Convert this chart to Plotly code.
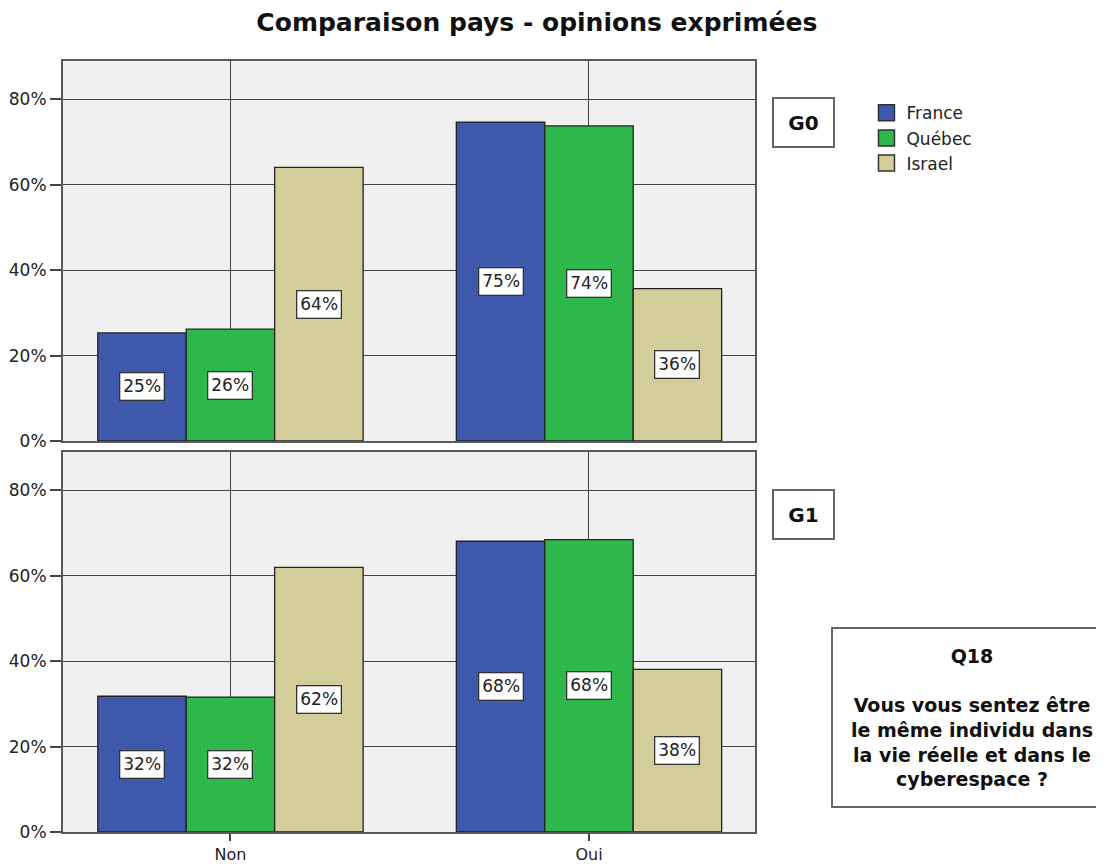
import plotly.graph_objects as go
from plotly.subplots import make_subplots

categories = ["Non", "Oui"]
countries = ["France", "Québec", "Israel"]
colors = ["#3E58AC", "#2EB84C", "#D3CE99"]

# valeurs en %
g0_france = [25.3, 74.7]
g0_quebec = [26.2, 73.8]
g0_israel = [64.1, 35.7]
g1_france = [31.8, 68.1]
g1_quebec = [31.6, 68.5]
g1_israel = [62.0, 38.1]

groups = {
    "G0": [g0_france, g0_quebec, g0_israel],
    "G1": [g1_france, g1_quebec, g1_israel],
}

FONT = "DejaVu Sans, Verdana, sans-serif"

fig = make_subplots(rows=2, cols=1, shared_xaxes=False, vertical_spacing=0.0143)

bargap = 0.26
bar_w = (1 - bargap) / 3

annotations = []
for row, (gname, series) in enumerate(groups.items(), start=1):
    for j, (name, vals) in enumerate(zip(countries, series)):
        fig.add_trace(go.Bar(
            x=categories, y=vals, name=name,
            marker=dict(color=colors[j], line=dict(color="#222222", width=1.3)),
            showlegend=False,
        ), row=row, col=1)
        for i, v in enumerate(vals):
            annotations.append(dict(
                x=i + (j - 1) * bar_w, y=v / 2,
                xref="x" if row == 1 else "x2", yref="y" if row == 1 else "y2",
                text=f"{round(v):.0f}%", showarrow=False,
                font=dict(family=FONT, size=17, color="#222222"),
                bgcolor="white", bordercolor="#333333", borderwidth=1.3, borderpad=3,
            ))

# legende (carrés plus grands que le symbole de barre par défaut)
for j, name in enumerate(countries):
    fig.add_trace(go.Scatter(
        x=[None], y=[None], mode="markers", name=name, legendgroup=name,
        marker=dict(symbol="square", size=16, color=colors[j],
                    line=dict(color="#333333", width=1.5)),
    ), row=1, col=1)

fig.update_layout(annotations=annotations)

axis_common = dict(showline=True, linecolor="#5a5a5a", linewidth=2, mirror=True,
                   showgrid=True, gridcolor="#444444", gridwidth=1.4, zeroline=False,
                   automargin=False)

for row in (1, 2):
    fig.update_yaxes(range=[0, 89], tickvals=[0, 20, 40, 60, 80],
                     ticktext=["0%", "20%", "40%", "60%", "80%"],
                     ticks="outside", ticklen=11, tickcolor="#444444", tickwidth=2,
                     tickfont=dict(family=FONT, size=17, color="#222222"),
                     **axis_common, row=row, col=1)
    fig.update_xaxes(range=[-0.467, 1.463], **axis_common, row=row, col=1)

fig.update_xaxes(showticklabels=False, ticks="", row=1, col=1)
fig.update_xaxes(ticks="outside", ticklen=7, tickcolor="#444444", tickwidth=2,
                 tickfont=dict(family=FONT, size=16, color="#222222"),
                 row=2, col=1)

fig.update_layout(
    width=1104, height=865,
    margin=dict(l=55, r=357, t=53, b=41),
    paper_bgcolor="white", plot_bgcolor="#F0F0F0",
    barmode="group", bargap=bargap, bargroupgap=0,
    title=dict(text="<b>Comparaison pays - opinions exprimées</b>", x=0.479, xanchor="center",
               y=0.984, yanchor="middle",
               font=dict(family=FONT, size=25, color="#111111")),
    legend=dict(x=1.1611, y=0.9556, xanchor="left", yanchor="top",
                font=dict(family=FONT, size=17, color="#222222"),
                itemwidth=30, tracegroupgap=0, bgcolor="rgba(0,0,0,0)"),
)

box_font = dict(family=FONT, size=20, color="#111111")
fig.add_annotation(x=1.0701, y=0.9202, xref="paper", yref="paper", text="<b>G0</b>",
                   xanchor="center", yanchor="middle",
                   showarrow=False, font=box_font, bgcolor="white", bordercolor="#666666",
                   borderwidth=2, borderpad=2, width=55, height=43)
fig.add_annotation(x=1.0701, y=0.4118, xref="paper", yref="paper", text="<b>G1</b>",
                   xanchor="center", yanchor="middle",
                   showarrow=False, font=box_font, bgcolor="white", bordercolor="#666666",
                   borderwidth=2, borderpad=2, width=55, height=43)
fig.add_annotation(x=1.3136, y=0.1479, xref="paper", yref="paper",
                   text="<b>Q18</b><br><br><b>Vous vous sentez être<br>le même individu dans<br>"
                        "la vie réelle et dans le<br>cyberespace ?</b>",
                   xanchor="center", yanchor="middle",
                   showarrow=False, align="center",
                   font=dict(family=FONT, size=19, color="#111111"),
                   bgcolor="white", bordercolor="#666666", borderwidth=2, borderpad=3,
                   width=272, height=171)

fig.write_html("out.html")
